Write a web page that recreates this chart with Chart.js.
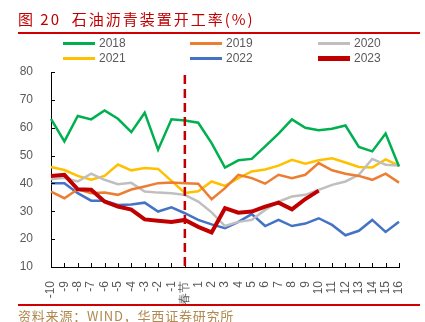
<!DOCTYPE html>
<html>
<head>
<meta charset="utf-8">
<script src="https://cdn.jsdelivr.net/npm/chart.js@4.4.1/dist/chart.umd.min.js"></script>
<style>
  body { margin:0; background:#fff; }
  #wrap { position:relative; width:425px; height:322px; overflow:hidden; font-family:"Liberation Sans", Arial, sans-serif; }
  #myChart { position:absolute; left:0; top:0; }
  .title { position:absolute; left:18px; top:8px; color:#C00000; font-family:"Noto Sans CJK SC", sans-serif; font-size:15px; letter-spacing:2px; white-space:pre; }
  .rule { position:absolute; left:18px; width:402px; height:2px; background:#D00000; }
  .leg { position:absolute; font-size:12px; color:#595959; white-space:nowrap; }
  .leg span.ln { position:absolute; left:0; width:32px; }
  .leg span.tx { position:absolute; left:36px; top:-7px; }
  .src { position:absolute; left:18px; top:306px; color:#B0894E; font-family:"Noto Sans CJK SC", sans-serif; font-size:13px; letter-spacing:0.8px; white-space:pre; }
</style>
</head>
<body>
<div id="wrap">
  <canvas id="myChart" width="425" height="322"></canvas>
  <div class="title">图 20  石油沥青装置开工率(%)</div>
  <div class="rule" style="top:32px"></div>
  <div id="legend"></div>
  <div class="rule" style="top:304px"></div>
  <div class="src">资料来源：WIND，华西证券研究所</div>
</div>
<script>
var labels = ['-10','-9','-8','-7','-6','-5','-4','-3','-2','-1','春节','1','2','3','4','5','6','7','8','9','10','11','12','13','14','15','16'];
var y2018 = [63.2,55.1,64.2,63.0,66.2,63.2,58.4,65.4,52.1,63.0,62.6,61.8,54.5,45.7,48.3,48.8,53.3,57.9,63.0,60.0,59.1,59.6,60.8,53.1,51.5,57.9,46.1];
var y2019 = [37.1,34.7,37.9,36.5,36.7,35.9,37.8,38.9,40.1,40.3,40.1,39.9,34.3,38.3,43.1,41.9,39.9,43.1,41.9,43.1,47.3,44.7,43.5,42.7,41.3,43.5,40.3];
var y2020 = [41.5,42.0,40.7,43.5,41.3,39.7,40.2,37.1,36.7,36.5,35.9,33.5,29.6,24.7,26.2,26.9,30.5,33.5,35.3,35.9,37.7,39.5,40.7,43.1,48.8,46.7,46.4];
var y2021 = [45.9,44.8,42.7,41.3,42.7,46.8,44.7,45.5,45.2,40.9,36.6,37.2,40.7,39.1,41.9,44.3,45.0,46.4,48.5,47.1,48.3,49.0,47.5,45.9,45.7,48.6,46.4];
var y2022 = [40.1,40.1,36.5,33.8,33.8,32.3,32.4,33.1,29.9,31.4,29.3,26.9,25.3,23.9,26.2,29.0,24.7,26.9,24.7,25.6,27.5,25.1,21.4,23.0,26.9,22.6,26.2];
var y2023 = [42.7,43.1,37.9,37.7,33.5,31.7,30.6,27.1,26.6,26.2,26.9,24.4,22.4,31.1,29.5,29.9,31.7,33.1,30.7,34.4,37.4];
var names = ['2018','2019','2020','2021','2022','2023'];
var colors = ['#00B050','#ED7D31','#BFBFBF','#FFC000','#4472C4','#C00000'];
var widths = [2.5,2.5,2.5,2.5,2.5,4];
var yTicks = [10,20,30,40,50,60,70,80];
var springIndex = 10;

// legend, 3 columns x 2 rows
var legX = [63,190,318], legY = [43,58];
var legHtml = '';
names.forEach(function(n, i) {
  var x = legX[i % 3], y = legY[Math.floor(i / 3)];
  legHtml += '<div class="leg" style="left:' + x + 'px;top:' + y + 'px">' +
    '<span class="ln" style="top:' + (-widths[i] / 2) + 'px;height:' + (widths[i] + 0.5) + 'px;background:' + colors[i] + '"></span>' +
    '<span class="tx">' + n + '</span></div>';
});
document.getElementById('legend').innerHTML = legHtml;

var series = [y2018, y2019, y2020, y2021, y2022, y2023];

var extras = {
  id: 'extras',
  afterDatasetsDraw: function(chart) {
    var c = chart.ctx, xs = chart.scales.x, ys = chart.scales.y, area = chart.chartArea;
    c.save();
    c.strokeStyle = '#000';
    c.lineWidth = 1;
    c.beginPath();
    for (var i = 0; i < labels.length; i++) {
      var px = Math.round(xs.getPixelForValue(i)) + 0.5;
      c.moveTo(px, area.bottom);
      c.lineTo(px, area.bottom - 4);
    }
    yTicks.forEach(function(v) {
      var py = Math.round(ys.getPixelForValue(v)) + 0.5;
      c.moveTo(area.left, py);
      c.lineTo(area.left + 4, py);
    });
    c.stroke();
    // spring festival marker
    var sx = xs.getPixelForValue(springIndex);
    c.strokeStyle = '#C00000';
    c.lineWidth = 2.5;
    c.setLineDash([9, 5]);
    c.beginPath();
    c.moveTo(sx, area.top + 3);
    c.lineTo(sx, area.bottom);
    c.stroke();
    c.restore();
  }
};

var ctx = document.getElementById('myChart');
var myChart = new Chart(ctx, {
  type: 'line',
  data: {
    labels: labels,
    datasets: series.map(function(d, i) {
      return {
        label: names[i],
        data: d,
        borderColor: colors[i],
        backgroundColor: colors[i],
        borderWidth: widths[i],
        pointRadius: 0,
        tension: 0,
        fill: false,
        order: i === 5 ? 0 : 1
      };
    })
  },
  options: {
    responsive: false,
    animation: false,
    layout: { padding: { left: 0, top: 72, right: 26, bottom: 0 } },
    plugins: { legend: { display: false }, tooltip: { enabled: false } },
    scales: {
      x: {
        offset: false,
        grid: { display: false },
        border: { display: true, color: '#000', width: 1 },
        ticks: { color: '#595959', font: { size: 12, family: 'Liberation Sans' }, minRotation: 90, maxRotation: 90, autoSkip: false, padding: 6 },
        afterFit: function(s) { s.height = 55; }
      },
      y: {
        min: 10, max: 80,
        grid: { display: false },
        border: { display: true, color: '#000', width: 1 },
        ticks: { stepSize: 10, color: '#595959', font: { size: 12, family: 'Liberation Sans' }, padding: 10 },
        afterFit: function(s) { s.width = 51; }
      }
    }
  },
  plugins: [extras]
});
</script>
</body>
</html>
